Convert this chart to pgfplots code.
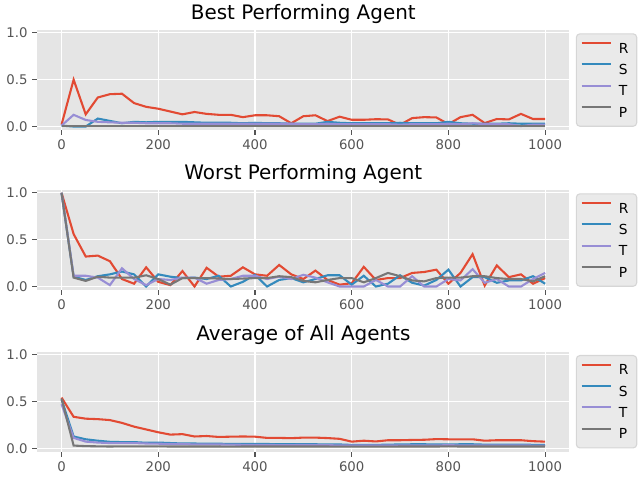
\documentclass[border=0pt]{standalone}
\usepackage{fontspec}
\setmainfont{DejaVu Sans}
\usepackage{pgfplots}
\usepackage{pgfplotstable}
\pgfplotsset{compat=1.18}
\definecolor{rc}{HTML}{E24A33}
\definecolor{sc}{HTML}{348ABD}
\definecolor{tc}{HTML}{988ED5}
\definecolor{pc}{HTML}{777777}
\definecolor{bgc}{HTML}{E5E5E5}
\definecolor{tickc}{HTML}{555555}
\definecolor{legfill}{HTML}{EAEAEA}
\definecolor{legedge}{HTML}{D6D6D6}

\pgfplotstableread{
x R S T P
0 0.02 0.01 0.01 0.005
25 0.50 0.0 0.125 0.005
50 0.13 0.0 0.07 0.005
75 0.31 0.085 0.05 0.005
100 0.345 0.06 0.045 0.005
125 0.35 0.035 0.04 0.005
150 0.25 0.05 0.04 0.005
175 0.21 0.045 0.035 0.005
200 0.19 0.05 0.035 0.005
225 0.16 0.05 0.035 0.005
250 0.13 0.05 0.03 0.005
275 0.155 0.045 0.03 0.005
300 0.135 0.04 0.03 0.005
325 0.125 0.04 0.03 0.005
350 0.125 0.04 0.03 0.005
375 0.10 0.035 0.03 0.005
400 0.12 0.04 0.03 0.005
425 0.12 0.035 0.03 0.005
450 0.11 0.035 0.03 0.005
475 0.035 0.03 0.03 0.005
500 0.11 0.03 0.025 0.005
525 0.12 0.03 0.025 0.005
550 0.058 0.05 0.03 0.005
575 0.105 0.04 0.025 0.005
600 0.072 0.035 0.025 0.005
625 0.072 0.035 0.025 0.005
650 0.078 0.035 0.025 0.005
675 0.076 0.035 0.025 0.005
700 0.018 0.04 0.02 0.005
725 0.09 0.035 0.025 0.005
750 0.10 0.035 0.025 0.005
775 0.097 0.035 0.025 0.005
800 0.026 0.05 0.03 0.005
825 0.10 0.035 0.025 0.005
850 0.125 0.03 0.035 0.005
875 0.037 0.03 0.025 0.005
900 0.08 0.03 0.025 0.005
925 0.076 0.035 0.025 0.005
950 0.135 0.03 0.005 0.005
975 0.08 0.03 0.02 0.005
1000 0.08 0.03 0.02 0.005
}\best

\pgfplotstableread{
x R S T P
0 1.0 1.0 1.0 1.0
25 0.56 0.105 0.115 0.095
50 0.32 0.07 0.115 0.06
75 0.33 0.11 0.095 0.105
100 0.27 0.13 0.015 0.095
125 0.08 0.16 0.195 0.095
150 0.03 0.13 0.08 0.095
175 0.205 0.0 0.015 0.12
200 0.05 0.13 0.08 0.08
225 0.015 0.105 0.07 0.02
250 0.165 0.09 0.095 0.09
275 0.0 0.095 0.095 0.09
300 0.20 0.08 0.03 0.09
325 0.105 0.115 0.07 0.085
350 0.115 0.0 0.08 0.08
375 0.205 0.05 0.115 0.085
400 0.13 0.125 0.115 0.09
425 0.115 0.0 0.08 0.09
450 0.23 0.07 0.105 0.11
475 0.13 0.09 0.08 0.10
500 0.08 0.045 0.125 0.06
525 0.17 0.08 0.095 0.045
550 0.07 0.12 0.045 0.07
575 0.02 0.12 0.0 0.09
600 0.035 0.02 0.0 0.09
625 0.21 0.115 0.0 0.045
650 0.07 0.0 0.07 0.09
675 0.09 0.03 0.0 0.145
700 0.09 0.12 0.0 0.11
725 0.145 0.04 0.11 0.065
750 0.155 0.01 0.0 0.055
775 0.18 0.07 0.0 0.09
800 0.03 0.18 0.08 0.095
825 0.145 0.0 0.065 0.095
850 0.345 0.10 0.185 0.11
875 0.01 0.10 0.04 0.11
900 0.225 0.04 0.08 0.09
925 0.10 0.065 0.0 0.08
950 0.13 0.065 0.0 0.08
975 0.03 0.11 0.08 0.055
1000 0.09 0.03 0.145 0.11
}\worst

\pgfplotstableread{
x R S T P
0 0.54 0.52 0.47 0.53
25 0.335 0.125 0.11 0.028
50 0.315 0.095 0.07 0.022
75 0.31 0.08 0.06 0.02
100 0.30 0.068 0.055 0.018
125 0.27 0.065 0.055 0.02
150 0.23 0.065 0.055 0.02
175 0.20 0.058 0.05 0.02
200 0.17 0.06 0.048 0.02
225 0.145 0.055 0.045 0.018
250 0.15 0.05 0.045 0.018
275 0.125 0.05 0.04 0.018
300 0.13 0.048 0.04 0.018
325 0.12 0.048 0.04 0.018
350 0.123 0.045 0.038 0.016
375 0.125 0.045 0.036 0.018
400 0.123 0.045 0.035 0.018
425 0.11 0.045 0.035 0.018
450 0.11 0.042 0.033 0.018
475 0.107 0.042 0.033 0.018
500 0.113 0.042 0.035 0.018
525 0.113 0.042 0.035 0.018
550 0.108 0.04 0.032 0.018
575 0.10 0.04 0.03 0.016
600 0.07 0.035 0.03 0.016
625 0.08 0.035 0.03 0.016
650 0.072 0.035 0.03 0.016
675 0.085 0.038 0.03 0.016
700 0.085 0.04 0.03 0.018
725 0.088 0.042 0.03 0.018
750 0.09 0.042 0.03 0.018
775 0.097 0.04 0.03 0.018
800 0.095 0.04 0.032 0.02
825 0.095 0.042 0.03 0.018
850 0.095 0.042 0.03 0.018
875 0.08 0.038 0.03 0.018
900 0.085 0.038 0.03 0.018
925 0.085 0.038 0.03 0.018
950 0.085 0.038 0.03 0.018
975 0.075 0.036 0.028 0.018
1000 0.07 0.035 0.028 0.018
}\avg

\pgfplotsset{
  every axis title/.style={at={(0.5,1)}, anchor=base, yshift=7.9bp, inner sep=0pt,
    font=\fontsize{14.4}{17}\selectfont},
  ggstyle/.style={
    scale only axis, width=383bp, height=72bp, anchor=south west,
    xmin=-50, xmax=1050, ymin=-0.037, ymax=1.03,
    xtick={0,200,400,600,800,1000}, ytick={0,0.5,1}, yticklabels={0.0,0.5,1.0},
    axis background/.style={fill=bgc},
    axis line style={draw=none},
    grid=major, major grid style={white, line width=0.8bp},
    tick align=outside, tick pos=left, major tick length=3.5bp,
    every tick/.style={tickc, line width=0.8bp},
    tick label style={text=tickc, font=\fontsize{9.6}{11}\selectfont},
    /pgf/number format/assume math mode=true,
    /pgf/number format/set thousands separator={},
    legend style={at={(1,1)}, anchor=north west, xshift=4.7bp, yshift=-2.4bp,
      fill=legfill, draw=legedge, rounded corners=2.5bp, line width=0.8bp,
      font=\fontsize{10}{12}\selectfont, inner xsep=3bp, inner ysep=4.5bp, row sep=4.1bp, column sep=2bp,
      nodes={inner xsep=3bp, inner ysep=2bp, text height=7.3bp, text depth=0pt}},
    legend image code/.code={\draw[##1, line width=1.5bp] (0bp,3.6bp) -- (21bp,3.6bp);},
    legend cell align=left,
    cycle list={{rc, line width=1.5bp},{sc, line width=1.5bp},{tc, line width=1.5bp},{pc, line width=1.5bp}},
  }
}

\begin{document}
\begin{tikzpicture}
\path[use as bounding box] (0,0) rectangle (460.8bp,345.6bp);
\begin{axis}[ggstyle, at={(26.9bp,252bp)}, title={Best Performing Agent}]
\addplot+[no markers] table[x=x,y=R]{\best};
\addplot+[no markers] table[x=x,y=S]{\best};
\addplot+[no markers] table[x=x,y=T]{\best};
\addplot+[no markers] table[x=x,y=P]{\best};
\legend{R,S,T,P}
\end{axis}
\begin{axis}[ggstyle, at={(26.9bp,136.8bp)}, title={Worst Performing Agent}]
\addplot+[no markers] table[x=x,y=R]{\worst};
\addplot+[no markers] table[x=x,y=S]{\worst};
\addplot+[no markers] table[x=x,y=T]{\worst};
\addplot+[no markers] table[x=x,y=P]{\worst};
\legend{R,S,T,P}
\end{axis}
\begin{axis}[ggstyle, at={(26.9bp,20.4bp)}, title={Average of All Agents}]
\addplot+[no markers] table[x=x,y=R]{\avg};
\addplot+[no markers] table[x=x,y=S]{\avg};
\addplot+[no markers] table[x=x,y=T]{\avg};
\addplot+[no markers] table[x=x,y=P]{\avg};
\legend{R,S,T,P}
\end{axis}
\end{tikzpicture}
\end{document}
